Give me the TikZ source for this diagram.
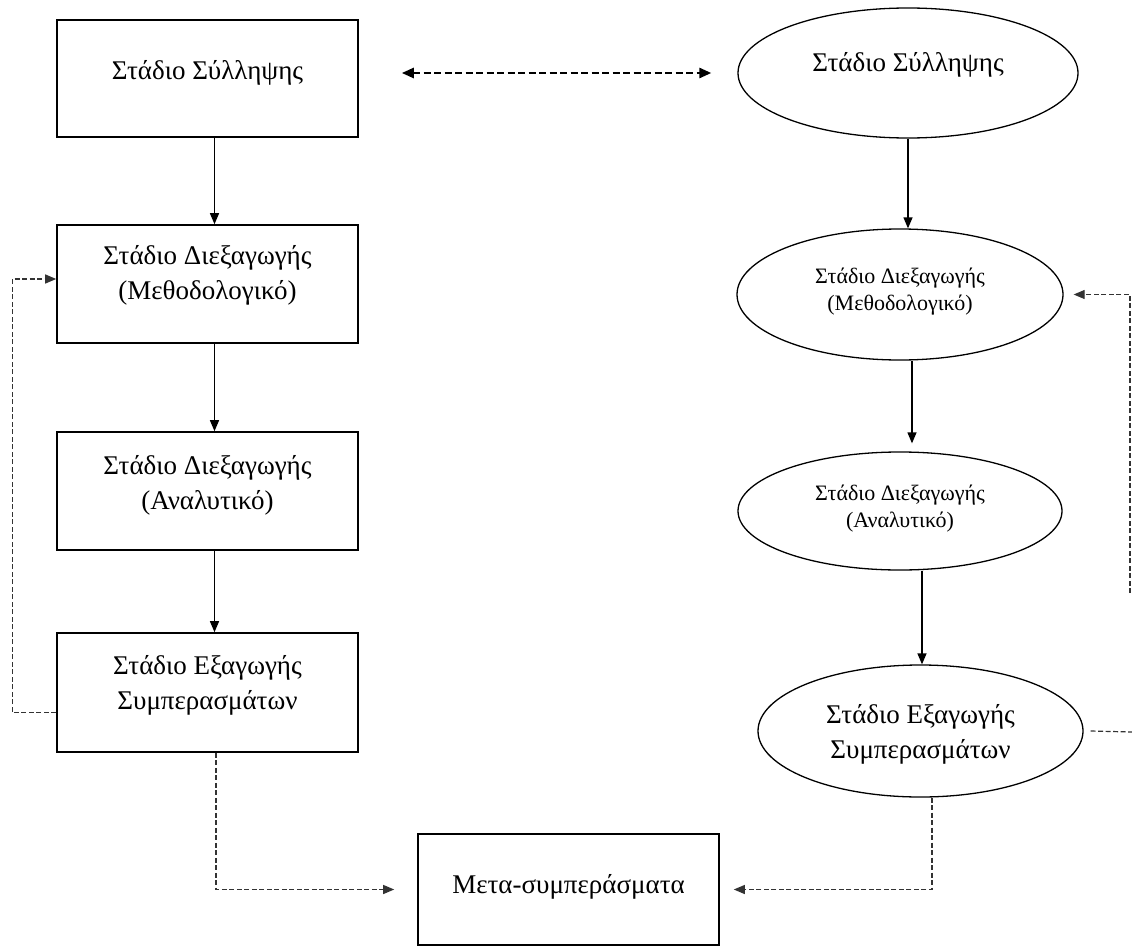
\documentclass[tikz,border=0pt]{standalone}
\usepackage{fontspec}
\setmainfont{Liberation Serif}
\usetikzlibrary{shapes.geometric,arrows.meta}

\tikzset{
  stagebox/.style={draw, line width=1.6pt, minimum width=301pt, inner sep=0pt},
  stageoval/.style={ellipse, draw, line width=1.3pt, inner sep=0pt},
  bigtxt/.style={align=center, inner sep=0pt, font=\fontsize{27}{35}\selectfont},
  smalltxt/.style={align=center, inner sep=0pt, font=\fontsize{22}{27}\selectfont},
  flow/.style={-{Triangle[length=11pt,width=9pt]}, line width=1.3pt},
  link/.style={{Triangle[length=12pt,width=10pt]}-{Triangle[length=12pt,width=10pt]},
    line width=2.6pt, dash pattern=on 7pt off 3.5pt},
  loopback/.style={line width=1.2pt, draw=black!80, dash pattern=on 5pt off 2.5pt},
  loophead/.style={loopback, -{Triangle[length=11pt,width=9pt]}}
}

\begin{document}
\begin{tikzpicture}[x=1pt, y=-1pt]
\useasboundingbox (0,0) rectangle (1132,950);

% left column: rectangular stages
\node[stagebox, minimum height=117pt] (b1) at (207.5,78.5) {};
\node[stagebox, minimum height=118pt] (b2) at (207.5,284) {};
\node[stagebox, minimum height=118pt] (b3) at (207.5,491) {};
\node[stagebox, minimum height=119pt] (b4) at (207.5,692.5) {};
\node[stagebox, minimum height=111pt] (b5) at (568.5,889.5) {};

\node[bigtxt] (tb1) at ([yshift=6pt]b1.center) {Στάδιο Σύλληψης};
\node[bigtxt] (tb2) at ([yshift=9pt]b2.center) {Στάδιο Διεξαγωγής\\(Μεθοδολογικό)};
\node[bigtxt] (tb3) at ([yshift=6pt]b3.center) {Στάδιο Διεξαγωγής\\(Αναλυτικό)};
\node[bigtxt] (tb4) at ([yshift=7pt]b4.center) {Στάδιο Εξαγωγής\\Συμπερασμάτων};
\node[bigtxt] (tb5) at ([yshift=3pt]b5.center) {Μετα-συμπεράσματα};

% right column: elliptical stages
\node[stageoval, minimum width=340pt, minimum height=130pt] (e1) at (908,73) {};
\node[stageoval, minimum width=326pt, minimum height=131pt] (e2) at (900,294.5) {};
\node[stageoval, minimum width=324pt, minimum height=118pt] (e3) at (900,511) {};
\node[stageoval, minimum width=325pt, minimum height=132pt] (e4) at (920.5,731) {};

\node[bigtxt] (te1) at ([yshift=8pt]e1.center) {Στάδιο Σύλληψης};
\node[smalltxt] (te2) at ([yshift=3pt]e2.center) {Στάδιο Διεξαγωγής\\(Μεθοδολογικό)};
\node[smalltxt] (te3) at ([yshift=2pt]e3.center) {Στάδιο Διεξαγωγής\\(Αναλυτικό)};
\node[bigtxt] (te4) at ([yshift=-3pt]e4.center) {Στάδιο Εξαγωγής\\Συμπερασμάτων};

% solid flow arrows
\draw[flow] ([xshift=7pt]b1.south) -- ([xshift=7pt]b2.north);
\draw[flow] ([xshift=7pt]b2.south) -- ([xshift=7pt]b3.north);
\draw[flow] ([xshift=7pt]b3.south) -- ([xshift=7pt]b4.north);

\draw[flow] (e1.south) -- (e2.north -| e1.south);
\draw[flow] ([xshift=12pt]e2.south) -- ([xshift=12pt,yshift=8pt]e3.north);
\draw[flow] ([xshift=22pt]e3.south) -- ([xshift=1.5pt]e4.north);

% correspondence between the two models
\draw[link, shorten <=43pt, shorten >=26pt] (b1.east |- e1.west) -- (e1.west);

% feedback, left model
\draw[loophead] ([yshift=-20pt]b4.west) -- ++(-44,0) |- ([yshift=5pt]b2.west);

% feedback, right model
\coordinate (rtop) at (1130,593);
\draw[loophead, shorten >=10pt] (rtop) |- (e2.east);
\draw[loopback] ([xshift=7pt]e4.east) -- (1132,732);

% paths to the meta-conclusions
\draw[loophead, shorten >=23pt] ([xshift=8.5pt]b4.south) |- (b5.west);
\draw[loophead, shorten >=14pt] ([xshift=11.5pt]e4.south) |- (b5.east);
\end{tikzpicture}
\end{document}
